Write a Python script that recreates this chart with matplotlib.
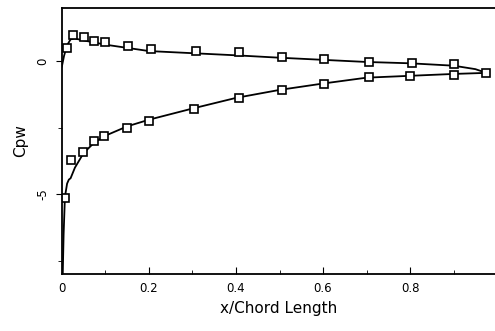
import matplotlib.pyplot as plt

# measured pressure coefficient (squares)
upper_x = [0.011, 0.025, 0.05, 0.074, 0.099, 0.152, 0.204, 0.307, 0.407, 0.505, 0.603, 0.706, 0.804, 0.90, 0.975]
upper_cp = [0.48, 0.98, 0.91, 0.75, 0.73, 0.58, 0.45, 0.39, 0.33, 0.16, 0.075, -0.03, -0.06, -0.11, -0.44]
lower_x = [0.007, 0.02, 0.048, 0.074, 0.097, 0.15, 0.20, 0.303, 0.406, 0.505, 0.602, 0.706, 0.80, 0.90]
lower_cp = [-5.16, -3.72, -3.43, -3.0, -2.82, -2.5, -2.24, -1.80, -1.38, -1.09, -0.85, -0.61, -0.57, -0.53]

# computed curves
calc_upper_x = [0.0, 0.005, 0.012, 0.02, 0.03, 0.05, 0.1, 0.15, 0.2, 0.3, 0.4, 0.5, 0.6, 0.7, 0.8, 0.9, 0.95, 0.975]
calc_upper_cp = [-0.2, 0.2, 0.6, 0.82, 0.85, 0.78, 0.62, 0.5, 0.38, 0.3, 0.22, 0.13, 0.05, -0.03, -0.08, -0.17, -0.3, -0.44]
calc_lower_x = [0.002, 0.004, 0.007, 0.012, 0.016, 0.02, 0.03, 0.05, 0.075, 0.1, 0.15, 0.2, 0.3, 0.4, 0.5, 0.6, 0.7, 0.8, 0.9, 0.975]
calc_lower_cp = [-8.0, -6.5, -5.1, -4.6, -4.45, -4.4, -4.0, -3.45, -3.05, -2.8, -2.45, -2.2, -1.78, -1.38, -1.08, -0.84, -0.62, -0.55, -0.48, -0.44]

fig = plt.figure(figsize=(4.95, 3.31), dpi=100)
ax = fig.add_axes([0.125, 0.172, 0.875, 0.804])

ax.plot(calc_upper_x, calc_upper_cp, color='black', lw=1.3)
ax.plot(calc_lower_x, calc_lower_cp, color='black', lw=1.3)
ax.plot(upper_x, upper_cp, 's', ms=5.5, mfc='white', mec='black', mew=1.2)
ax.plot(lower_x, lower_cp, 's', ms=5.5, mfc='white', mec='black', mew=1.2)

ax.set_xlim(0, 0.995)
ax.set_ylim(-8, 2)
ax.set_xticks([0, 0.2, 0.4, 0.6, 0.8])
ax.set_xticklabels(['0', '0.2', '0.4', '0.6', '0.8'])
ax.set_xticks([0.1, 0.3, 0.5, 0.7, 0.9], minor=True)
ax.set_yticks([0, -5])
ax.set_yticklabels(['0', '-5'], rotation=90, va='center')
ax.set_yticks([-2.5, -7.5], minor=True)
ax.tick_params(axis='x', which='both', direction='in', labelsize=8.5, pad=6)
ax.tick_params(axis='x', which='major', length=5)
ax.tick_params(axis='x', which='minor', length=3)
ax.tick_params(axis='y', which='both', direction='out', labelsize=8.5, pad=5)
ax.tick_params(axis='y', which='major', length=4)
ax.tick_params(axis='y', which='minor', length=3)
ax.spines['right'].set_visible(False)
for s in ['left', 'bottom', 'top']:
    ax.spines[s].set_linewidth(1.3)

ax.set_xlabel('x/Chord Length', fontsize=11, labelpad=4)
ax.set_ylabel('Cpw', fontsize=11, labelpad=6)

fig.savefig('out.png', dpi=100)
